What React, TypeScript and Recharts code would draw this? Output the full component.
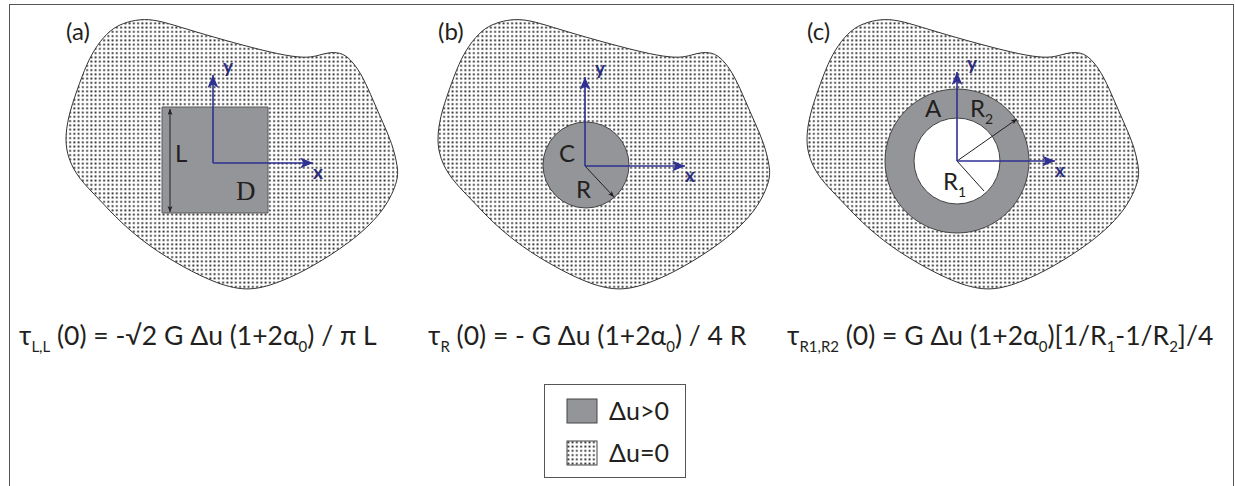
import React from "react";
import { ScatterChart, Scatter, XAxis, YAxis, Curve } from "recharts";

const WIDTH = 1235;
const HEIGHT = 486;

// horizontal shift of panels (a), (b), (c); all three share one outline
const PANEL_SHIFT = [0, 372, 741];
const PANEL_TAGS = ["(a)", "(b)", "(c)"];

// outline of the surrounding medium, drawn in panel (a) coordinates
const OUTLINE = [
  { x: 97, y: 45 }, { x: 110, y: 30 }, { x: 123, y: 23 }, { x: 140, y: 19 },
  { x: 157, y: 20 }, { x: 180, y: 27 }, { x: 213, y: 37 }, { x: 253, y: 48 },
  { x: 287, y: 56 }, { x: 308, y: 58 }, { x: 320, y: 55 }, { x: 330, y: 52 },
  { x: 343, y: 53 }, { x: 353, y: 62 }, { x: 363, y: 77 }, { x: 373, y: 100 },
  { x: 383, y: 123 }, { x: 392, y: 143 }, { x: 398, y: 167 }, { x: 398, y: 182 },
  { x: 383, y: 213 }, { x: 350, y: 243 }, { x: 310, y: 268 }, { x: 283, y: 281 },
  { x: 250, y: 292 }, { x: 217, y: 284 }, { x: 183, y: 267 }, { x: 150, y: 247 },
  { x: 120, y: 222 }, { x: 100, y: 200 }, { x: 78, y: 178 }, { x: 68, y: 158 },
  { x: 65, y: 140 }, { x: 68, y: 117 }, { x: 77, y: 90 }, { x: 87, y: 63 },
];

// (a) square source D of side L
const SQUARE = [
  { x: 162, y: 107 }, { x: 268, y: 107 }, { x: 268, y: 213 }, { x: 162, y: 213 },
];
// (b) disc C of radius R
const DISC = [{ x: 586, y: 165, r: 43 }];
// (c) annulus A between R1 and R2
const RING_OUTER = [{ x: 957, y: 161, r: 72 }];
const RING_INNER = [{ x: 957, y: 161, r: 43 }];

// local x / y axes in each panel
const AXIS_ORIGIN = [{ x: 213, y: 163 }, { x: 585, y: 166 }, { x: 957, y: 161 }];
const AXIS_X_TIP = [{ x: 313, y: 163 }, { x: 685, y: 166 }, { x: 1055, y: 161 }];
const AXIS_Y_TIP = [{ x: 213, y: 75 }, { x: 585, y: 77 }, { x: 957, y: 72 }];

// dimension lines
const L_SPAN = [{ x: 170, y: 109 }, { x: 170, y: 212 }];
const R_SPAN = [{ x: 585, y: 166 }, { x: 614, y: 197 }];
const R2_SPAN = [{ x: 957, y: 161 }, { x: 1017, y: 119 }];
const R1_SPAN = [{ x: 957, y: 161 }, { x: 984, y: 191 }];

// names of the regions and radii: text, subscript, anchor
const REGION_NAMES = [
  { x: 175, y: 162, text: "L", sub: "", serif: false },
  { x: 236, y: 200, text: "D", sub: "", serif: true },
  { x: 559, y: 162, text: "C", sub: "", serif: false },
  { x: 576, y: 198, text: "R", sub: "", serif: false },
  { x: 925, y: 117, text: "A", sub: "", serif: false },
  { x: 970, y: 117, text: "R", sub: "2", serif: false },
  { x: 943, y: 190, text: "R", sub: "1", serif: false },
];

// equations under each panel: [text, isSubscript]
const EQ_A: [string, boolean][] = [
  ["τ", false], ["L,L", true], [" (0) = -√2 G Δu (1+2α", false], ["0", true], [") / π L", false],
];
const EQ_B: [string, boolean][] = [
  ["τ", false], ["R", true], [" (0) = - G Δu (1+2α", false], ["0", true], [") / 4 R", false],
];
const EQ_C: [string, boolean][] = [
  ["τ", false], ["R1,R2", true], [" (0) = G Δu (1+2α", false], ["0", true],
  [")[1/R", false], ["1", true], ["-1/R", false], ["2", true], ["]/4", false],
];

const LEGEND_LABELS = ["Δu>0", "Δu=0"];

const GRAY = "#939598";
const BLUE = "#2e3192";
const INK = "#231f20";
const SANS = "Lato, 'Noto Sans', sans-serif";

const shift = (pts: { x: number; y: number }[], dx: number) =>
  pts.map((p) => ({ ...p, x: p.x + dx }));

const noDot = () => <g />;

const polyline =
  (style: React.SVGProps<SVGPathElement>) =>
  (p: any) => (
    <path
      d={p.points.map((q: any, i: number) => `${i ? "L" : "M"}${q.x},${q.y}`).join(" ")}
      fill="none"
      {...style}
    />
  );

const disc = (fill: string, stroke: string) => (p: any) =>
  <circle cx={p.cx} cy={p.cy} r={p.payload.r} fill={fill} stroke={stroke} strokeWidth={1} />;

const regionName = (p: any) => {
  const d = p.payload;
  return (
    <text
      x={p.cx}
      y={p.cy}
      fontFamily={d.serif ? "'Liberation Serif', serif" : SANS}
      fontSize={d.serif ? 27 : 24}
      fill={INK}
    >
      {d.text}
      {d.sub && (
        <tspan dy={7} fontSize={14}>
          {d.sub}
        </tspan>
      )}
    </text>
  );
};

function Equation({ x, y, parts }: { x: number; y: number; parts: [string, boolean][] }) {
  let down = false;
  return (
    <text x={x} y={y} fontFamily={SANS} fontSize={26.5} fill={INK}>
      {parts.map(([t, sub], i) => {
        const dy = sub && !down ? 7 : !sub && down ? -7 : 0;
        down = sub;
        return (
          <tspan key={i} dy={dy} fontSize={sub ? 15 : 26.5} style={{ whiteSpace: "pre" }}>
            {t}
          </tspan>
        );
      })}
    </text>
  );
}

function Legend() {
  const rows = [GRAY, "url(#legendDots)"];
  return (
    <div
      style={{
        position: "absolute",
        left: 544,
        top: 384,
        width: 140,
        height: 92,
        border: "1px solid #555",
        background: "#fff",
      }}
    >
      <svg width={140} height={92} style={{ position: "absolute", left: 0, top: 0 }}>
        <defs>
          <pattern id="legendDots" width={4.25} height={4.25} patternUnits="userSpaceOnUse">
            <rect x={1.2} y={1.2} width={1.8} height={1.8} fill={INK} />
          </pattern>
        </defs>
        {rows.map((fill, i) => (
          <g key={i}>
            <rect x={22} y={14 + i * 42} width={30} height={24} fill={fill} stroke="#444" strokeWidth={1} />
            <text x={64} y={35 + i * 42} fontFamily={SANS} fontSize={25} fill={INK}>
              {LEGEND_LABELS[i]}
            </text>
          </g>
        ))}
      </svg>
    </div>
  );
}

export default function App() {
  return (
    <div style={{ position: "absolute", left: 0, top: 0, width: WIDTH, height: HEIGHT, background: "#fff" }}>
      {/* figure frame, open at the bottom */}
      <div
        style={{
          position: "absolute",
          left: 9,
          top: 4,
          width: 1223,
          height: 490,
          borderLeft: "1.5px solid #555",
          borderTop: "1.5px solid #555",
          borderRight: "1.5px solid #555",
        }}
      />
      <div style={{ position: "absolute", left: 0, top: 0 }}>
        <ScatterChart width={WIDTH} height={HEIGHT} margin={{ top: 0, right: 0, bottom: 0, left: 0 }}>
          <defs>
            <pattern id="dots" width={4.25} height={4.25} patternUnits="userSpaceOnUse">
              <rect x={1.2} y={1.2} width={1.8} height={1.8} fill={INK} />
            </pattern>
            <marker id="arrowBlue" markerUnits="userSpaceOnUse" markerWidth={14} markerHeight={11}
              refX={13} refY={5.5} orient="auto-start-reverse">
              <path d="M0,0 L13,5.5 L0,11 L3.5,5.5 Z" fill={BLUE} />
            </marker>
            <marker id="arrowInk" markerUnits="userSpaceOnUse" markerWidth={7} markerHeight={6}
              refX={6} refY={2.5} orient="auto-start-reverse">
              <path d="M0,0 L6,2.5 L0,5 L1.5,2.5 Z" fill={INK} />
            </marker>
          </defs>
          <XAxis type="number" dataKey="x" domain={[0, WIDTH]} hide allowDataOverflow />
          <YAxis type="number" dataKey="y" domain={[0, HEIGHT]} reversed hide allowDataOverflow />

          {PANEL_SHIFT.map((dx, i) => (
            <Scatter
              key={`medium-${i}`}
              data={shift(OUTLINE, dx)}
              isAnimationActive={false}
              shape={noDot}
              line={(p: any) => (
                <Curve points={p.points} type="basisClosed" fill="url(#dots)" stroke="#333" strokeWidth={1} />
              )}
            />
          ))}

          <Scatter
            data={SQUARE}
            isAnimationActive={false}
            shape={noDot}
            line={(p: any) => (
              <Curve points={p.points} type="linearClosed" fill={GRAY} stroke="#58595b" strokeWidth={1} />
            )}
          />
          <Scatter data={DISC} isAnimationActive={false} shape={disc(GRAY, "#444")} />
          <Scatter data={RING_OUTER} isAnimationActive={false} shape={disc(GRAY, "#444")} />
          <Scatter data={RING_INNER} isAnimationActive={false} shape={disc("#fff", "#444")} />

          <Scatter data={L_SPAN} isAnimationActive={false} shape={noDot}
            line={polyline({ stroke: INK, strokeWidth: 1, markerStart: "url(#arrowInk)", markerEnd: "url(#arrowInk)" })} />
          <Scatter data={R_SPAN} isAnimationActive={false} shape={noDot}
            line={polyline({ stroke: INK, strokeWidth: 1, markerEnd: "url(#arrowInk)" })} />
          <Scatter data={R2_SPAN} isAnimationActive={false} shape={noDot}
            line={polyline({ stroke: INK, strokeWidth: 1, markerEnd: "url(#arrowInk)" })} />
          <Scatter data={R1_SPAN} isAnimationActive={false} shape={noDot}
            line={polyline({ stroke: INK, strokeWidth: 1 })} />

          {AXIS_ORIGIN.map((o, i) => (
            <Scatter key={`ax-x-${i}`} data={[o, AXIS_X_TIP[i]]} isAnimationActive={false} shape={noDot}
              line={polyline({ stroke: BLUE, strokeWidth: 1.6, markerEnd: "url(#arrowBlue)" })} />
          ))}
          {AXIS_ORIGIN.map((o, i) => (
            <Scatter key={`ax-y-${i}`} data={[o, AXIS_Y_TIP[i]]} isAnimationActive={false} shape={noDot}
              line={polyline({ stroke: BLUE, strokeWidth: 1.6, markerEnd: "url(#arrowBlue)" })} />
          ))}

          <Scatter data={REGION_NAMES} isAnimationActive={false} shape={regionName} />

          {/* panel tags and axis names */}
          {PANEL_TAGS.map((t, i) => (
            <text key={t} x={66 + PANEL_SHIFT[i]} y={40} fontFamily={SANS} fontSize={24} fill={INK}>
              {t}
            </text>
          ))}
          {AXIS_X_TIP.map((p, i) => (
            <text key={`xl-${i}`} x={p.x} y={p.y + 16} fontFamily={SANS} fontSize={19} fontWeight={700} fill={BLUE}>
              x
            </text>
          ))}
          {AXIS_Y_TIP.map((p, i) => (
            <text key={`yl-${i}`} x={p.x + 10} y={p.y - 2} fontFamily={SANS} fontSize={19} fontWeight={700} fill={BLUE}>
              y
            </text>
          ))}

          <Equation x={19} y={345} parts={EQ_A} />
          <Equation x={428} y={345} parts={EQ_B} />
          <Equation x={787} y={345} parts={EQ_C} />
        </ScatterChart>
      </div>
      <Legend />
    </div>
  );
}
